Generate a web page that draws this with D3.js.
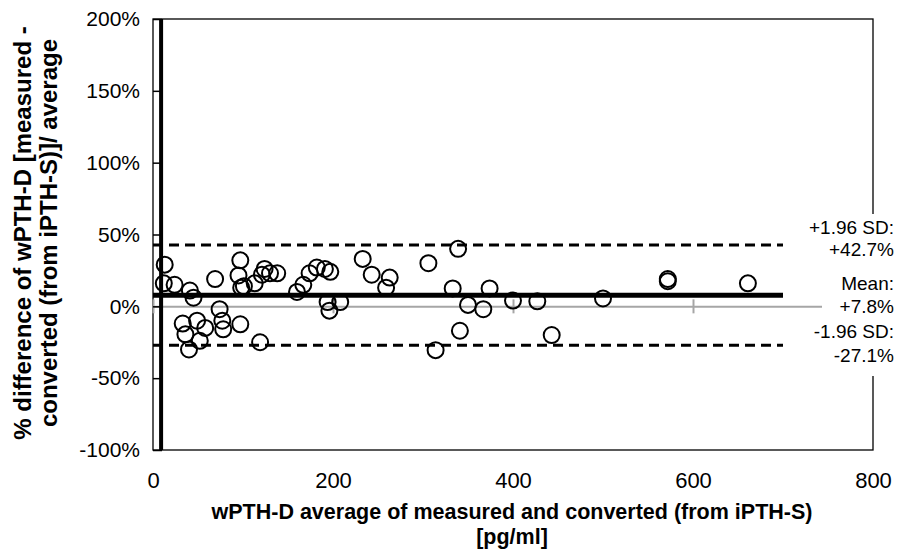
<!DOCTYPE html>
<html>
<head>
<meta charset="utf-8">
<title>Bland-Altman wPTH-D</title>
<script src="https://d3js.org/d3.v7.min.js"></script>
<style>
  body { margin: 0; background: white; }
  text { font-family: "Liberation Sans", Arial, sans-serif; fill: black; }
</style>
</head>
<body>
<svg id="chart" width="902" height="556"></svg>
<script>
// average of measured and converted [pg/ml]
var avgVals = [13, 12, 24, 41, 45, 69, 97, 95, 98, 101, 113, 124, 121, 130, 138,
  160, 167, 174, 182, 191, 197, 194, 196, 208, 233, 243, 259, 263, 306, 339,
  333, 350, 341, 314, 367, 374, 400, 427, 443, 500, 572, 572, 661,
  33, 49, 36, 58, 52, 40, 74, 77, 78, 97, 119];
// % difference
var diffVals = [29, 16, 15, 11, 6, 19, 32, 21.5, 13, 14, 16, 26, 22, 23, 23,
  10, 15, 23, 27, 26, 24, 3, -3, 3, 33, 22, 13, 20, 30, 40,
  12.5, 1, -17, -30.5, -2, 12.5, 4, 3.5, -20, 5.5, 19, 17.5, 16,
  -12, -10, -19.5, -15, -24, -30, -2, -10, -16, -12.5, -25];

var meanDiff = 7.8, upperLoA = 42.7, lowerLoA = -27.1;
var lineEnd = 700;
var xTicks = [0, 200, 400, 600, 800];
var yTicks = [-100, -50, 0, 50, 100, 150, 200];
var loaLabels = [["+1.96 SD:", "+42.7%"], ["Mean:", "+7.8%"], ["-1.96 SD:", "-27.1%"]];

var svg = d3.select("#chart");
var pLeft = 153, pRight = 873, pTop = 19, pBottom = 450;

var x = d3.scaleLinear().domain([0, 800]).range([pLeft, pRight]);
var y = d3.scaleLinear().domain([-100, 200]).range([pBottom, pTop]);

// plot area frame
svg.append("rect")
  .attr("x", pLeft).attr("y", pTop)
  .attr("width", pRight - pLeft).attr("height", pBottom - pTop)
  .attr("fill", "none").attr("stroke", "black").attr("stroke-width", 1.3);

// gray horizontal axis through 0%
var zeroAxis = svg.append("g")
  .attr("transform", "translate(0," + y(0) + ")")
  .call(d3.axisBottom(x).tickValues(xTicks).tickSize(7).tickSizeOuter(0).tickFormat(""));
zeroAxis.select(".domain").attr("stroke", "#a6a6a6").attr("stroke-width", 2);
zeroAxis.selectAll(".tick line").attr("y1", -7).attr("stroke", "#a6a6a6").attr("stroke-width", 2);

// y axis ticks (inside) and labels
var yAxis = svg.append("g")
  .attr("transform", "translate(" + pLeft + ",0)")
  .call(d3.axisLeft(y).tickValues(yTicks).tickSizeInner(-9).tickSizeOuter(0)
    .tickPadding(13).tickFormat(function(d) { return d + "%"; }));
yAxis.select(".domain").remove();
yAxis.selectAll(".tick line").attr("stroke", "black").attr("stroke-width", 1.5);
yAxis.selectAll("text").style("font-size", "21px").attr("fill", "black");

// x axis labels at bottom
var xAxis = svg.append("g")
  .attr("transform", "translate(0," + pBottom + ")")
  .call(d3.axisBottom(x).tickValues(xTicks).tickSize(0).tickPadding(22));
xAxis.select(".domain").remove();
xAxis.selectAll("text").style("font-size", "22px").attr("fill", "black");

// thick vertical line near x=10
svg.append("line")
  .attr("x1", x(9)).attr("x2", x(9))
  .attr("y1", y(200)).attr("y2", y(-100))
  .attr("stroke", "black").attr("stroke-width", 4);

// limits of agreement
[upperLoA, lowerLoA].forEach(function(v) {
  svg.append("line")
    .attr("x1", x(0)).attr("x2", x(lineEnd))
    .attr("y1", y(v)).attr("y2", y(v))
    .attr("stroke", "black").attr("stroke-width", 3)
    .attr("stroke-dasharray", "10,6");
});
svg.append("line")
  .attr("x1", x(0)).attr("x2", x(lineEnd))
  .attr("y1", y(meanDiff)).attr("y2", y(meanDiff))
  .attr("stroke", "black").attr("stroke-width", 5);

// points
svg.append("g").selectAll("circle")
  .data(avgVals.map(function(d, i) { return [d, diffVals[i]]; }))
  .enter().append("circle")
  .attr("cx", function(d) { return x(d[0]); })
  .attr("cy", function(d) { return y(d[1]); })
  .attr("r", 8)
  .attr("fill", "none").attr("stroke", "black").attr("stroke-width", 2);

// label box on the right
svg.append("rect")
  .attr("x", 822).attr("y", 214).attr("width", 80).attr("height", 162)
  .attr("fill", "white");

var labelBase = [[234, 256], [290, 313], [338, 362]];
loaLabels.forEach(function(lbl, i) {
  var t = svg.append("text")
    .attr("text-anchor", "end")
    .style("font-size", "19px");
  t.append("tspan").attr("x", 894).attr("y", labelBase[i][0]).text(lbl[0]);
  t.append("tspan").attr("x", 894).attr("y", labelBase[i][1]).text(lbl[1]);
});

// axis titles
var xt = svg.append("text")
  .attr("text-anchor", "middle")
  .style("font-size", "21.5px").style("font-weight", "bold");
xt.append("tspan").attr("x", 512).attr("y", 519).text("wPTH-D average of measured and converted (from iPTH-S)");
xt.append("tspan").attr("x", 512).attr("y", 544).text("[pg/ml]");

var yt = svg.append("text")
  .attr("transform", "translate(0,233) rotate(-90)")
  .attr("text-anchor", "middle")
  .style("font-size", "24px").style("font-weight", "bold");
yt.append("tspan").attr("x", 0).attr("y", 31).text("% difference of wPTH-D [measured -");
yt.append("tspan").attr("x", 0).attr("y", 57).text("converted (from iPTH-S)]/ average");
</script>
</body>
</html>
